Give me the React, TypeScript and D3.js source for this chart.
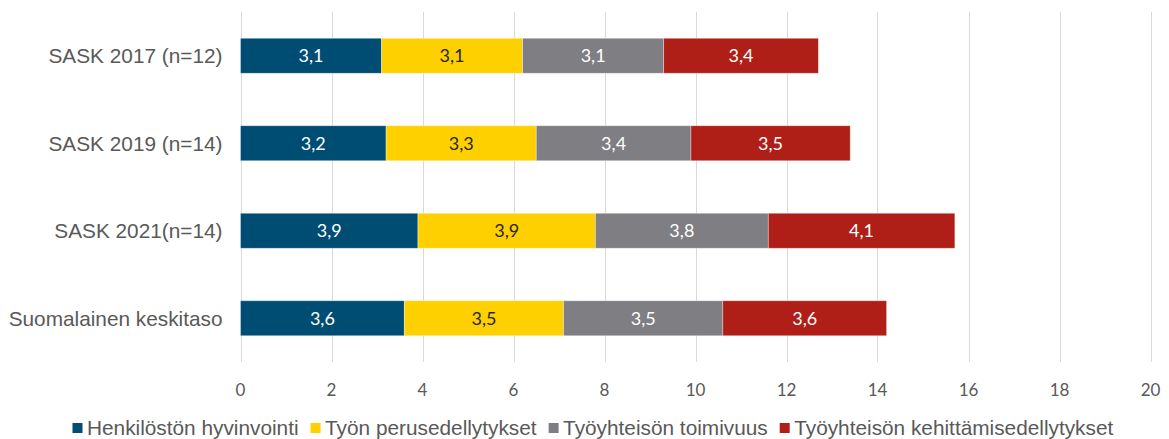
import React, { useEffect, useRef } from "react";
import * as d3 from "d3";

const categories = ["SASK 2017 (n=12)", "SASK 2019 (n=14)", "SASK 2021(n=14)", "Suomalainen keskitaso"];
const seriesNames = ["Henkilöstön hyvinvointi", "Työn perusedellytykset", "Työyhteisön toimivuus", "Työyhteisön kehittämisedellytykset"];
const henkilosto = [3.1, 3.2, 3.9, 3.6];
const perusedellytykset = [3.1, 3.3, 3.9, 3.5];
const toimivuus = [3.1, 3.4, 3.8, 3.5];
const kehittaminen = [3.4, 3.5, 4.1, 3.6];
const tickValues = [0, 2, 4, 6, 8, 10, 12, 14, 16, 18, 20];
const colors = ["#004D74", "#FFD000", "#7F7E82", "#B01F17"];
const labelColors = ["#FFFFFF", "#262626", "#FFFFFF", "#FFFFFF"];

const W = 1169;
const H = 439;

export default function App() {
  const ref = useRef<SVGSVGElement | null>(null);

  useEffect(() => {
    const svg = d3.select(ref.current);
    svg.selectAll("*").remove();

    const x = d3.scaleLinear().domain([0, 20]).range([240.5, 1150.5]);
    const y = d3.scaleBand().domain(categories).range([12, 362]).paddingInner(0.6).paddingOuter(0.3);

    // gridlines
    svg.append("g")
      .selectAll("line")
      .data(tickValues)
      .join("line")
      .attr("x1", (d) => Math.round(x(d)) + 0.5)
      .attr("x2", (d) => Math.round(x(d)) + 0.5)
      .attr("y1", 12)
      .attr("y2", 362)
      .attr("stroke", "#D9D9D9")
      .attr("stroke-width", 1);

    // tick labels
    svg.append("g")
      .selectAll("text")
      .data(tickValues)
      .join("text")
      .attr("x", (d) => x(d))
      .attr("y", 390)
      .attr("dy", "0.35em")
      .attr("text-anchor", "middle")
      .attr("font-family", "Lato, 'Open Sans', sans-serif")
      .attr("font-size", 17)
      .attr("fill", "#595959")
      .text((d) => String(d));

    const series = [henkilosto, perusedellytykset, toimivuus, kehittaminen];
    const rows = categories.map((c, i) => {
      const o: any = { cat: c };
      seriesNames.forEach((s, j) => (o[s] = series[j][i]));
      return o;
    });
    const stacked = d3.stack().keys(seriesNames)(rows);

    const g = svg.append("g");
    stacked.forEach((layer, j) => {
      const lg = g.append("g");
      lg.selectAll("rect")
        .data(layer)
        .join("rect")
        .attr("x", (d) => x(d[0]))
        .attr("y", (d: any) => y(d.data.cat)!)
        .attr("width", (d) => x(d[1]) - x(d[0]))
        .attr("height", y.bandwidth())
        .attr("fill", colors[j])
        .attr("stroke", "rgba(255,255,255,0.45)")
        .attr("stroke-width", 0.75);
      lg.selectAll("text")
        .data(layer)
        .join("text")
        .attr("x", (d) => (x(d[0]) + x(d[1])) / 2)
        .attr("y", (d: any) => y(d.data.cat)! + y.bandwidth() / 2)
        .attr("dy", "0.35em")
        .attr("text-anchor", "middle")
        .attr("font-family", "Lato, 'Open Sans', sans-serif")
        .attr("font-size", 18)
        .attr("fill", labelColors[j])
        .text((d: any) => series[j][categories.indexOf(d.data.cat)].toFixed(1).replace(".", ","));
    });

    // category labels
    svg.append("g")
      .selectAll("text")
      .data(categories)
      .join("text")
      .attr("x", 222.5)
      .attr("y", (d) => y(d)! + y.bandwidth() / 2)
      .attr("dy", "0.35em")
      .attr("text-anchor", "end")
      .attr("font-family", "'Liberation Sans', Arial, sans-serif")
      .attr("font-size", 20.8)
      .attr("fill", "#595959")
      .text((d) => d);

    // legend
    const leg = svg.append("g");
    let cx = 72.5;
    const ly = 428;
    seriesNames.forEach((s, j) => {
      leg.append("rect")
        .attr("x", cx)
        .attr("y", ly - 5)
        .attr("width", 10)
        .attr("height", 10)
        .attr("fill", colors[j]);
      const t = leg.append("text")
        .attr("x", cx + 14.5)
        .attr("y", ly)
        .attr("dy", "0.35em")
        .attr("font-family", "'Liberation Sans', Arial, sans-serif")
        .attr("font-size", 20.8)
        .attr("fill", "#595959")
        .text(s);
      const w = (t.node() as SVGTextElement).getComputedTextLength();
      cx = cx + 14.5 + w + 12;
    });
  }, []);

  return (
    <svg
      ref={ref}
      width={W}
      height={H}
      style={{ position: "absolute", left: 0, top: 0, display: "block", background: "#fff" }}
    />
  );
}
